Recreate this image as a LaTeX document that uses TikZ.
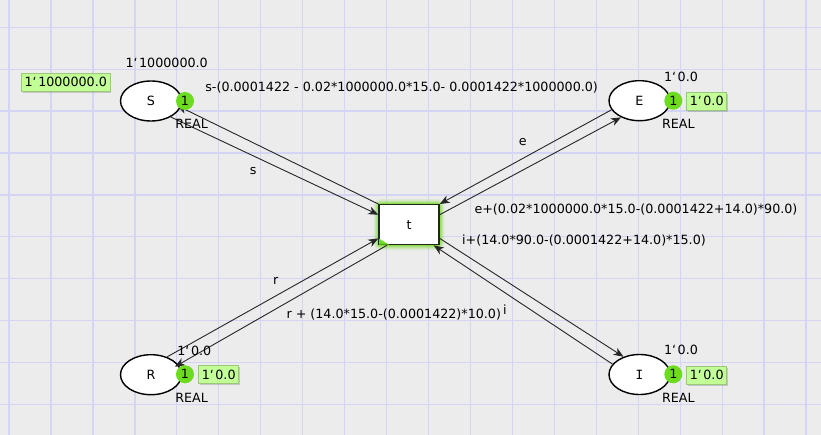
\documentclass[tikz,border=0pt]{standalone}
\usepackage{fontspec}
\setmainfont{DejaVu Sans}
\newfontfamily\monofam{DejaVu Sans Mono}
\usetikzlibrary{shapes.geometric,arrows.meta,shadows}
\definecolor{bg}{HTML}{ECECEC}
\definecolor{gridc}{HTML}{D4D4F4}
\definecolor{tokc}{HTML}{6CDC1E}
\definecolor{markc}{HTML}{C2FF96}
\definecolor{markb}{HTML}{98C878}
\definecolor{glowc}{HTML}{86DA40}
\definecolor{tborder}{HTML}{1E2A14}
\newcommand{\bq}{{\char"60\kern1.5pt}}
\tikzset{
  every node/.style={font=\fontsize{12.7}{15}\selectfont, inner sep=0pt},
  place/.style={ellipse, draw=black, line width=1.4pt, fill=white,
    minimum width=61pt, minimum height=40pt},
  trans/.style={rectangle, draw=tborder, line width=1.4pt, fill=white,
    minimum width=60pt, minimum height=40pt},
  tok/.style={circle, fill=tokc, minimum size=18pt},
  marking/.style={fill=markc, draw=markb, line width=0.7pt,
    minimum height=18pt, inner xsep=3pt,
    drop shadow={shadow xshift=1.5pt, shadow yshift=-1.5pt, opacity=0.35}},
  arcline/.style={draw=black!85, line width=0.9pt,
    -{Stealth[length=10pt,width=8pt,inset=3pt]}},
  lbl/.style={}
}
\begin{document}
\begin{tikzpicture}[x=1pt,y=-1pt]
\useasboundingbox (0,0) rectangle (821,435);
\fill[bg] (0,0) rectangle (821,435);
% grid
\foreach \k in {0,...,19} {
  \draw[gridc, line width=1.3pt] ({9+41.95*\k},0) -- ({9+41.95*\k},435);
}
\foreach \k in {0,...,9} {
  \draw[gridc, line width=1.3pt] (0,{27.3+41.9*\k}) -- (821,{27.3+41.9*\k});
}
% transition glow
\coordinate (tc) at (409,224.7);
\foreach \w/\o in {11/0.15,8/0.25,5.5/0.45,3/0.75} {
  \draw[glowc, line width=\w pt, opacity=\o, rounded corners=2pt]
    ([shift={(-30,-20)}]tc) rectangle ([shift={(30,20)}]tc);
}
\node[trans] (t) at (tc) {t};
\fill[tokc] ([shift={(0.7,-0.7)}]t.south west) -- ++(10,0) -- ++(-10,-6) -- cycle;

% places
\node[place] (S) at (151,101) {S};
\node[place] (E) at (639.5,100.7) {E};
\node[place] (I) at (639.5,374.5) {\monofam I};
\node[place] (R) at (151,374.7) {R};

% arcs
\draw[arcline] (S.-39) -- (t.162);
\draw[arcline, shorten >=-4pt] (t.north west) -- (S.-12);
\draw[arcline] (E.-162.5) -- (t.north east);
\draw[arcline] (t.18) -- (E.-138.4);
\draw[arcline] (t.-24) -- (I.132);
\draw[arcline] (I.159) -- (t.-40);
\draw[arcline] (R.48) -- (t.-156);
\draw[arcline, shorten >=-4pt] (t.-137) -- (R.20);

% tokens
\node[tok] (Sk) at (185,101) {1};
\node[tok] (Ek) at (673.3,100.7) {1};
\node[tok] (Ik) at (673.3,374.3) {1};
\node[tok] (Rk) at (185,374.3) {1};

% current markings
\node[marking] (Sm) at (65.8,82.2) {1\bq1000000.0};
\node[marking] (Em) at (706.7,101.2) {1\bq0.0};
\node[marking] (Im) at (706.7,375) {1\bq0.0};
\node[marking] (Rm) at (218.7,374.7) {1\bq0.0};

% initial markings
\node[lbl] (Si) at (166.7,63.3) {1\bq1000000.0};
\node[lbl] (Ei) at (681,77.3) {1\bq0.0};
\node[lbl] (Ii) at (681,350) {1\bq0.0};
\node[lbl] (Ri) at (194.3,350.7) {1\bq0.0};

% colour sets
\node[lbl] (St) at (191.7,124.3) {REAL};
\node[lbl] (Et) at (678.3,124.3) {REAL};
\node[lbl] (It) at (678.3,397.7) {REAL};
\node[lbl] (Rt) at (191.7,397.7) {REAL};

% arc inscriptions
\node[lbl] (a1) at (253.3,171) {s};
\node[lbl] (a2) at (401.7,87.3) {s-(0.0001422 - 0.02*1000000.0*15.0- 0.0001422*1000000.0)};
\node[lbl] (a3) at (522.7,141.7) {e};
\node[lbl] (a4) at (636,210) {e+(0.02*1000000.0*15.0-(0.0001422+14.0)*90.0)};
\node[lbl] (a5) at (584,241) {i+(14.0*90.0-(0.0001422+14.0)*15.0)};
\node[lbl] (a6) at (505,309.3) {i};
\node[lbl] (a7) at (275.7,280.7) {r};
\node[lbl] (a8) at (393.8,315) {r + (14.0*15.0-(0.0001422)*10.0)};
\end{tikzpicture}
\end{document}
